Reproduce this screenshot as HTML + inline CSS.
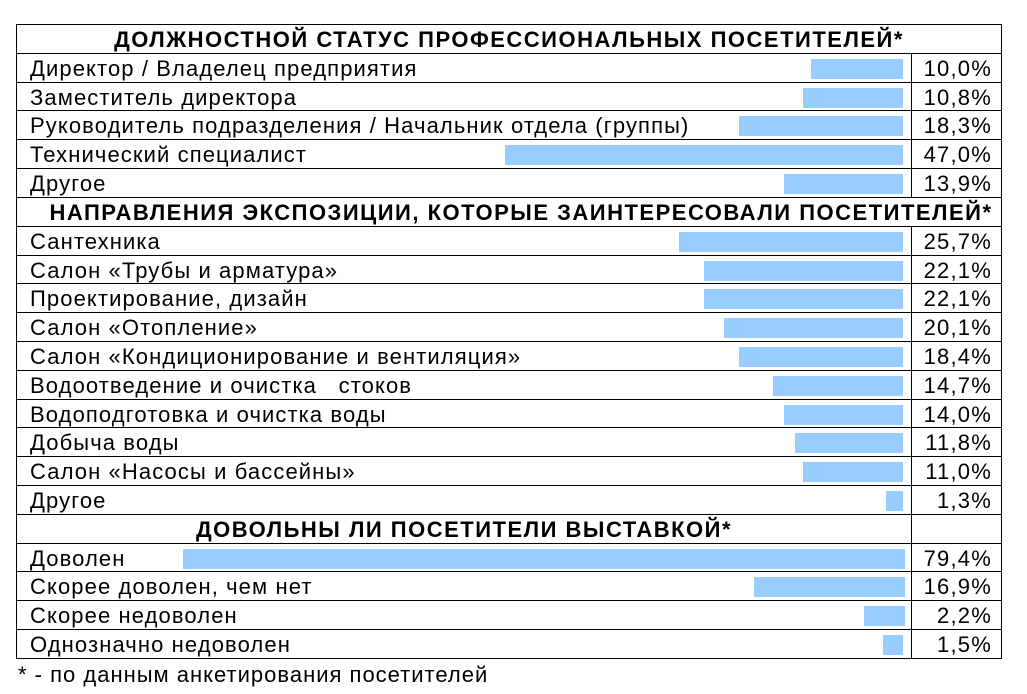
<!DOCTYPE html>
<html><head><meta charset="utf-8"><style>
body{margin:0;background:#fff;width:1027px;height:694px;overflow:hidden;font-family:"Liberation Sans",Arial,sans-serif;color:#000}
table{position:absolute;left:16px;top:24px;border-collapse:collapse;table-layout:fixed;width:985px}
tr{height:28.82px}
td{border:1.5px solid #000;height:28.82px;box-sizing:border-box;padding:3px 0 0 0;font-size:22px;line-height:24px;position:relative;white-space:nowrap;letter-spacing:1.1px;vertical-align:top}
td.l{padding-left:13px}
td.p{text-align:right;padding-right:9px;letter-spacing:1.2px}
td.h{font-weight:bold;text-align:center;letter-spacing:1.5px}
.b{position:absolute;right:8px;top:5px;height:20px;background:#99ccff}
.f{position:absolute;left:18px;top:662px;font-size:22px;letter-spacing:1px}
</style></head><body>
<table>
<col style="width:895px"><col style="width:90px">
<tr><td class="h" colspan="2">ДОЛЖНОСТНОЙ СТАТУС ПРОФЕССИОНАЛЬНЫХ ПОСЕТИТЕЛЕЙ*</td></tr>
<tr><td class="l">Директор / Владелец предприятия<span class="b" style="width:92px"></span></td><td class="p">10,0%</td></tr>
<tr><td class="l">Заместитель директора<span class="b" style="width:100px"></span></td><td class="p">10,8%</td></tr>
<tr><td class="l">Руководитель подразделения / Начальник отдела (группы)<span class="b" style="width:164px"></span></td><td class="p">18,3%</td></tr>
<tr><td class="l">Технический специалист<span class="b" style="width:398px"></span></td><td class="p">47,0%</td></tr>
<tr><td class="l">Другое<span class="b" style="width:119px"></span></td><td class="p">13,9%</td></tr>
<tr><td class="h" colspan="2" style="padding-left:24px">НАПРАВЛЕНИЯ ЭКСПОЗИЦИИ, КОТОРЫЕ ЗАИНТЕРЕСОВАЛИ ПОСЕТИТЕЛЕЙ*</td></tr>
<tr><td class="l">Сантехника<span class="b" style="width:224px"></span></td><td class="p">25,7%</td></tr>
<tr><td class="l">Салон «Трубы и арматура»<span class="b" style="width:199px"></span></td><td class="p">22,1%</td></tr>
<tr><td class="l">Проектирование, дизайн<span class="b" style="width:199px"></span></td><td class="p">22,1%</td></tr>
<tr><td class="l">Салон «Отопление»<span class="b" style="width:179px"></span></td><td class="p">20,1%</td></tr>
<tr><td class="l">Салон «Кондиционирование и вентиляция»<span class="b" style="width:164px"></span></td><td class="p">18,4%</td></tr>
<tr><td class="l">Водоотведение и очистка &nbsp; стоков<span class="b" style="width:130px"></span></td><td class="p">14,7%</td></tr>
<tr><td class="l">Водоподготовка и очистка воды<span class="b" style="width:119px"></span></td><td class="p">14,0%</td></tr>
<tr><td class="l">Добыча воды<span class="b" style="width:108px"></span></td><td class="p">11,8%</td></tr>
<tr><td class="l">Салон «Насосы и бассейны»<span class="b" style="width:100px"></span></td><td class="p">11,0%</td></tr>
<tr><td class="l">Другое<span class="b" style="width:17px"></span></td><td class="p">1,3%</td></tr>
<tr><td class="h">ДОВОЛЬНЫ ЛИ ПОСЕТИТЕЛИ ВЫСТАВКОЙ*</td><td></td></tr>
<tr><td class="l">Доволен<span class="b" style="width:722px;right:6px"></span></td><td class="p">79,4%</td></tr>
<tr><td class="l">Скорее доволен, чем нет<span class="b" style="width:151px;right:6px"></span></td><td class="p">16,9%</td></tr>
<tr><td class="l">Скорее недоволен<span class="b" style="width:41px;right:6px"></span></td><td class="p">2,2%</td></tr>
<tr><td class="l">Однозначно недоволен<span class="b" style="width:20px"></span></td><td class="p">1,5%</td></tr>
</table>
<div class="f">* - по данным анкетирования посетителей</div>
</body></html>
